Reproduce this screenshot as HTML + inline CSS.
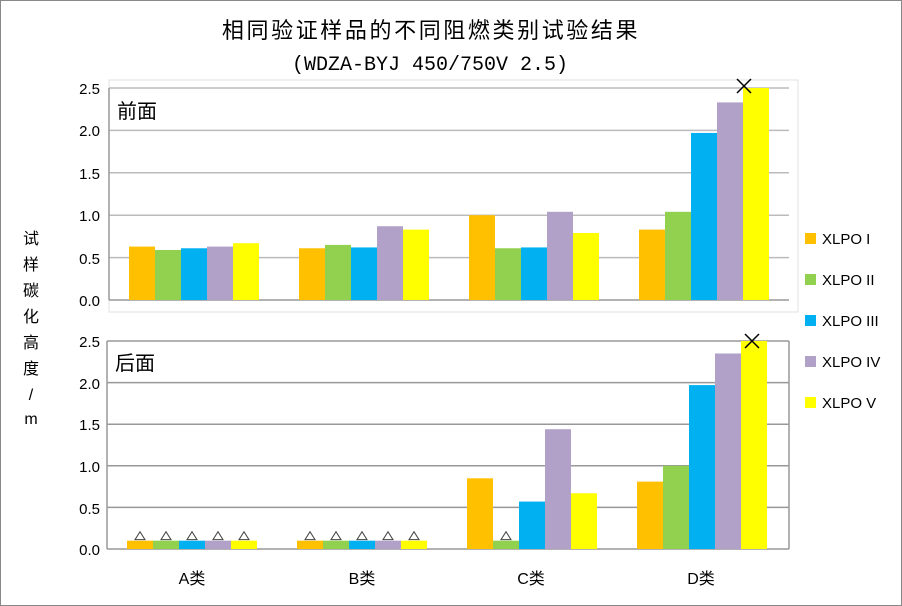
<!DOCTYPE html>
<html><head><meta charset="utf-8"><style>
html,body{margin:0;padding:0;background:#fff}
svg{display:block}
text{font-family:"Liberation Sans","Noto Sans CJK SC",sans-serif}
text.mono{font-family:"Liberation Mono",monospace}
</style></head><body>
<svg width="902" height="606" xmlns="http://www.w3.org/2000/svg">
<rect x="0.5" y="0.5" width="901" height="605" fill="#fff" stroke="#888" stroke-width="1"/>
<text x="431" y="38" font-size="22" text-anchor="middle" letter-spacing="2.6" fill="#000">相同验证样品的不同阻燃类别试验结果</text>
<text class="mono" x="430" y="70" font-size="20" text-anchor="middle" fill="#000">(WDZA-BYJ 450/750V 2.5)</text>
<g font-size="16" fill="#000" text-anchor="middle">
<text x="31" y="244">试</text><text x="31" y="270">样</text><text x="31" y="296">碳</text><text x="31" y="322">化</text><text x="31" y="348">高</text><text x="31" y="374">度</text><text x="31" y="400">/</text><text x="31" y="424">m</text>
</g>
<g id="top">
<rect x="109" y="80" width="689" height="232" fill="none" stroke="#e0e0e0"/>
<g stroke="#bbb" stroke-width="1.5">
<line x1="109" y1="88" x2="789" y2="88"/><line x1="109" y1="130.4" x2="789" y2="130.4"/><line x1="109" y1="172.8" x2="789" y2="172.8"/><line x1="109" y1="215.2" x2="789" y2="215.2"/><line x1="109" y1="257.6" x2="789" y2="257.6"/>
</g>
<line x1="109" y1="300" x2="789" y2="300" stroke="#999" stroke-width="1.5"/>
<line x1="109" y1="88" x2="109" y2="300" stroke="#999" stroke-width="1.5"/>
<g font-size="15" fill="#000" text-anchor="end">
<text x="100" y="94">2.5</text><text x="100" y="136">2.0</text><text x="100" y="179">1.5</text><text x="100" y="221">1.0</text><text x="100" y="264">0.5</text><text x="100" y="306">0.0</text>
</g>
<text x="117" y="118" font-size="20" fill="#000">前面</text>
</g>
<g id="bot">
<g stroke="#999" stroke-width="1.5">
<line x1="107" y1="341" x2="789" y2="341"/><line x1="107" y1="382.6" x2="789" y2="382.6"/><line x1="107" y1="424.2" x2="789" y2="424.2"/><line x1="107" y1="465.8" x2="789" y2="465.8"/><line x1="107" y1="507.4" x2="789" y2="507.4"/>
<line x1="107" y1="549" x2="789" y2="549"/><line x1="107" y1="341" x2="107" y2="549"/><line x1="789" y1="341" x2="789" y2="549"/>
</g>
<g font-size="15" fill="#000" text-anchor="end">
<text x="100" y="347">2.5</text><text x="100" y="389">2.0</text><text x="100" y="430">1.5</text><text x="100" y="472">1.0</text><text x="100" y="514">0.5</text><text x="100" y="555">0.0</text>
</g>
<text x="115" y="370" font-size="20" fill="#000">后面</text>
<g font-size="16" fill="#000" text-anchor="middle">
<text x="192" y="584">A类</text><text x="362" y="584">B类</text><text x="531" y="584">C类</text><text x="701" y="584">D类</text>
</g>
</g>
<g id="bars"></g>
<g font-size="15" fill="#000">
<rect x="805" y="233" width="11" height="11" fill="#FFC000"/><text x="822" y="244">XLPO I</text>
<rect x="805" y="274" width="11" height="11" fill="#92D050"/><text x="822" y="285">XLPO II</text>
<rect x="805" y="315" width="11" height="11" fill="#00B0F0"/><text x="822" y="326">XLPO III</text>
<rect x="805" y="356" width="11" height="11" fill="#B1A0C7"/><text x="822" y="367">XLPO IV</text>
<rect x="805" y="397" width="11" height="11" fill="#FFFF00"/><text x="822" y="408">XLPO V</text>
</g>
</svg>
<script>
var C=["#FFC000","#92D050","#00B0F0","#B1A0C7","#FFFF00"];
var T=[[.63,.59,.61,.63,.67],[.61,.65,.62,.87,.83],[1.0,.61,.62,1.04,.79],[.83,1.04,1.97,2.33,2.5]];
var B=[[.1,.1,.1,.1,.1],[.1,.1,.1,.1,.1],[.85,.1,.57,1.44,.67],[.81,1.0,1.97,2.35,2.5]];
var tri=[[1,1,1,1,1],[1,1,1,1,1],[0,1,0,0,0],[0,0,0,0,0]];
var s="";
function bars(D,x0,y0,sc,tr){
 for(var g=0;g<4;g++)for(var i=0;i<5;i++){
  var x=x0+20+g*170+i*26,h=D[g][i]*sc,y=y0-h;
  s+='<rect x="'+x+'" y="'+y+'" width="26" height="'+h+'" fill="'+C[i]+'"/>';
  if(tr&&tr[g][i]){var cx=x+13,by=y-1;s+='<polygon points="'+(cx-5)+','+by+' '+(cx+5)+','+by+' '+cx+','+(by-8)+'" fill="none" stroke="#444" stroke-width="1"/>';}
 }
}
bars(T,109,300,84.8,null);
bars(B,107,549,83.2,tri);
s+='<path d="M737 79 L751 93 M751 79 L737 93" stroke="#000" stroke-width="1.5"/>';
s+='<path d="M745 334 L759 348 M759 334 L745 348" stroke="#000" stroke-width="1.5"/>';
document.getElementById("bars").innerHTML=s;
</script>
</body></html>
